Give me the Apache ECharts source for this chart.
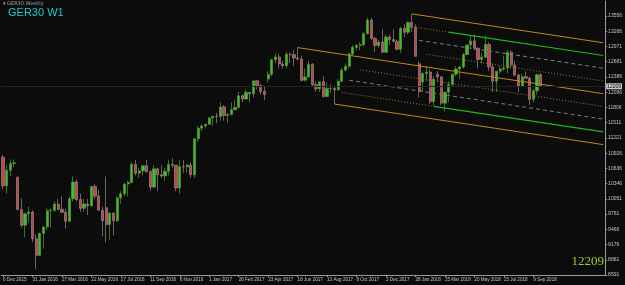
<!DOCTYPE html>
<html><head><meta charset="utf-8">
<script src="https://cdn.jsdelivr.net/npm/echarts@6/dist/echarts.min.js"></script>
<style>html,body{margin:0;padding:0;background:#0c0c0c}#c{width:625px;height:285px}</style>
</head><body><div id="c"></div>
<script>
// Weekly GER30 bars, first bar = week of 6 Dec 2015
const firstWeek = '2015-12-06';
const totalSlots = 164; // bars + empty right shift area
const opens = [10850,10300,10600,10727,10460,9849,9545,9764,9798,9286,8967,9388,9513,9825,9831,9950,9851,9794,9622,10051,10373,10039,9870,9952,9917,10287,10103,9834,9880,9557,9776,9630,10067,10147,10337,10367,10713,10544,10587,10684,10573,10276,10627,10511,10491,10580,10711,10696,10259,10668,10664,10699,10513,11203,11404,11449,11481,11599,11640,11630,11814,11651,11666,11757,11804,12027,11963,12095,12064,12313,12225,12109,12350,12438,12717,12770,12638,12602,12823,12815,12752,12733,12325,12389,12631,12240,12162,12298,12014,12165,12167,12142,12304,12518,12592,12828,12955,12991,13003,13217,13478,13127,12993,13060,12861,13153,13103,13072,12918,13320,13245,13434,13340,12640,12290,12452,12483,11914,12440,12390,11886,12096,12241,12442,12540,12580,12820,13001,13078,12938,12724,12767,13011,12580,12306,12497,12541,12561,12860,12616,12424,12211,12394,12364,11959,12124,12431];
const highs = [10890,10700,10800,10810,10490,10060,9790,9900,9830,9370,9400,9520,9880,9870,10000,10050,10100,9860,10100,10480,10420,10150,10050,10050,10300,10340,10230,9900,10480,9800,9800,10100,10200,10350,10400,10750,10800,10650,10700,10800,10600,10700,10650,10700,10650,10800,10830,10700,10800,10800,10720,10750,11210,11450,11480,11490,11620,11650,11700,11900,11850,11700,11900,11950,12100,12050,12150,12100,12320,12320,12250,12200,12500,12730,12840,12830,12700,12870,12860,12900,12951,12800,12550,12700,12650,12300,12300,12400,12280,12250,12200,12350,12560,12650,12850,13000,13020,13050,13250,13525,13525,13150,13100,13300,13200,13200,13300,13100,13350,13400,13450,13597,13400,12690,12480,12600,12530,12400,12500,12400,12100,12300,12450,12600,12600,12850,13000,13170,13205,12950,12850,13180,13050,12650,12500,12600,12800,12900,12900,12700,12450,12450,12500,12400,12150,12450,12460];
const lows = [10240,10150,10480,10650,9830,9500,9315,9600,9220,8699,8960,9100,9450,9500,9800,9830,9780,9480,9600,10000,10000,9800,9800,9740,9900,10050,9830,9330,9220,9270,9350,9600,9950,10100,10100,10350,10500,10450,10500,10550,10200,10250,10200,10450,10400,10500,10650,10200,10150,10550,10550,10450,10450,11150,11350,11400,11470,11450,11500,11550,11550,11500,11650,11750,11790,11900,11950,11900,12000,12150,12050,11940,12280,12400,12650,12550,12550,12550,12650,12600,12700,12300,12300,12380,12200,12100,12100,11990,12000,12080,11868,12130,12300,12500,12550,12800,12900,12900,12980,13200,13100,12860,12950,12900,12850,13000,13050,12900,12850,13150,13200,13250,12780,11990,12100,12300,11870,11830,12300,11850,11726,11900,12200,12400,12350,12550,12800,12950,12900,12550,12650,12750,12500,12100,12100,12450,12500,12450,12550,12400,12100,12200,12350,11850,11900,12050,12200];
const closes = [10300,10600,10727,10743,9849,9545,9764,9798,9286,8967,9388,9513,9825,9831,9950,9851,9794,9622,10051,10373,10039,9870,9952,9917,10287,10103,9834,9631,9557,9776,9630,10067,10147,10337,10367,10713,10544,10587,10684,10573,10276,10627,10511,10491,10580,10711,10696,10259,10668,10664,10699,10513,11203,11404,11449,11481,11599,11630,11630,11814,11651,11666,11757,11804,12027,11963,12095,12064,12313,12225,12109,12049,12438,12717,12770,12638,12602,12823,12815,12752,12733,12325,12389,12631,12240,12162,12298,12014,12165,12167,12142,12304,12518,12592,12828,12955,12991,13003,13217,13478,13127,12993,13060,12861,13153,13103,13072,12918,13320,13245,13434,13340,12785,12107,12452,12483,11914,12346,12390,11886,12096,12241,12442,12540,12580,12820,13001,13078,12938,12724,12767,13011,12580,12306,12497,12541,12561,12860,12616,12424,12211,12394,12364,11959,12124,12431,12209];

// x-axis tick labels every 8 weeks
const xTickLabels = ['6 Dec 2015','31 Jan 2016','27 Mar 2016','22 May 2016','17 Jul 2016','11 Sep 2016','6 Nov 2016','1 Jan 2017','26 Feb 2017','23 Apr 2017','18 Jun 2017','13 Aug 2017','8 Oct 2017','3 Dec 2017','28 Jan 2018','25 Mar 2018','20 May 2018','15 Jul 2018','9 Sep 2018'];
const yTickLabels = [8591,8881,9176,9466,9761,10051,10346,10636,10926,11221,11511,11806,12096,12386,12681,12971,13266,13556];

// Channel / trend lines: [startIndex, startPrice, endIndex, endPrice, kind]
const chanLines = [
  [111,13597,163,13043,'orange'],
  [112,13342,121,13246,'dot'],
  [121,13246,163,12799,'green'],
  [113,13088,163,12555,'dash'],
  [115,12822,163,12311,'dot'],
  [80,12951,163,12067,'orange'],
  [97,12526,163,11823,'dot'],
  [94,12325,163,11579,'dash'],
  [92,12092,117,11825,'dot'],
  [117,11825,163,11335,'green'],
  [90,11869,163,11091,'orange']
];

const MON = ['Jan','Feb','Mar','Apr','May','Jun','Jul','Aug','Sep','Oct','Nov','Dec'];
const dates = [];
{
  const t0 = Date.parse(firstWeek + 'T00:00:00Z');
  for (let i = 0; i < totalSlots; i++) {
    const d = new Date(t0 + i * 7 * 86400000);
    dates.push(d.getUTCDate() + ' ' + MON[d.getUTCMonth()] + ' ' + d.getUTCFullYear());
  }
}
const candleData = opens.map((o, i) => [o, closes[i], lows[i], highs[i]]);
const lastPrice = closes[closes.length - 1];

const lineStyles = {
  orange: {color:'#c0861c', width:1, type:'solid'},
  green: {color:'#1fb81f', width:1.2, type:'solid'},
  dash: {color:'#7c7c7c', width:1, type:[4,3]},
  dot: {color:'#8e7f26', width:1, type:[1,2]}
};

const lineSeries = chanLines.map(l => {
  const arr = new Array(totalSlots).fill(null);
  arr[l[0]] = l[1];
  arr[l[2]] = l[3];
  return {
    type:'line', data:arr, connectNulls:true, symbol:'none', silent:true,
    lineStyle: lineStyles[l[4]], z:3, animation:false
  };
});

const yMin = 8591, yStep = 292.0588;
const chart = echarts.init(document.getElementById('c'), null, {renderer:'canvas'});
chart.setOption({
  backgroundColor:'#0c0c0c',
  animation:false,
  grid:{left:-1, right:19, top:1, bottom:10},
  xAxis:{
    type:'category', data:dates, boundaryGap:true,
    axisLine:{show:true, lineStyle:{color:'#9a9a9a', width:1}},
    axisTick:{show:true, alignWithLabel:true, length:2, interval:(i)=> i % 8 === 0 && i / 8 < xTickLabels.length, lineStyle:{color:'#9a9a9a'}},
    axisLabel:{
      interval:(i)=> i % 8 === 0 && i / 8 < xTickLabels.length,
      formatter:(v, i)=> xTickLabels[i / 8] || '',
      align:'left', color:'#c4c4c4', fontSize:4.6, margin:2, fontFamily:'Liberation Sans'
    },
    splitLine:{show:false}
  },
  yAxis:{
    type:'value', position:'right', min:yMin, max:13844, interval:yStep, scale:true,
    axisLine:{show:true, lineStyle:{color:'#9a9a9a', width:1}},
    axisTick:{show:true, length:2, lineStyle:{color:'#9a9a9a'}},
    axisLabel:{
      showMaxLabel:false, color:'#c4c4c4', fontSize:5, margin:3, fontFamily:'Liberation Sans',
      formatter:(v)=>{
        const k = Math.round((v - yMin) / yStep);
        return yTickLabels[k] !== undefined ? String(yTickLabels[k]) : '';
      }
    },
    splitLine:{show:false}
  },
  series:[
    {
      type:'candlestick', data:candleData, barWidth:2.7, z:2,
      itemStyle:{color:'#3cbd3c', color0:'#cc3f48', borderColor:'#5f9a2a', borderColor0:'#8c8c8c', borderWidth:0.7},
      markLine:{
        silent:true, symbol:['none','none'], animation:false,
        data:[{yAxis:lastPrice}],
        lineStyle:{color:'#242424', type:'solid', width:1},
        label:{show:true, position:'end', formatter:String(lastPrice), backgroundColor:'#c8c8c8', color:'#000', fontSize:5, padding:[1,1,0,1], distance:1, fontFamily:'Liberation Sans'}
      }
    },
    ...lineSeries
  ],
  graphic:[
    {type:'text', left:3, top:1, style:{text:'\u25BE GER30.Weekly', fill:'#a8a8a8', fontSize:5, fontFamily:'DejaVu Sans'}},
    {type:'text', left:8, top:7, style:{text:'GER30 W1', fill:'#1ec8c8', fontSize:11, fontFamily:'Liberation Sans'}},
    {type:'text', right:21, top:255, style:{text:String(lastPrice), fill:'#9acd32', fontSize:13, fontFamily:'Liberation Serif'}}
  ]
});
</script>
</body></html>
